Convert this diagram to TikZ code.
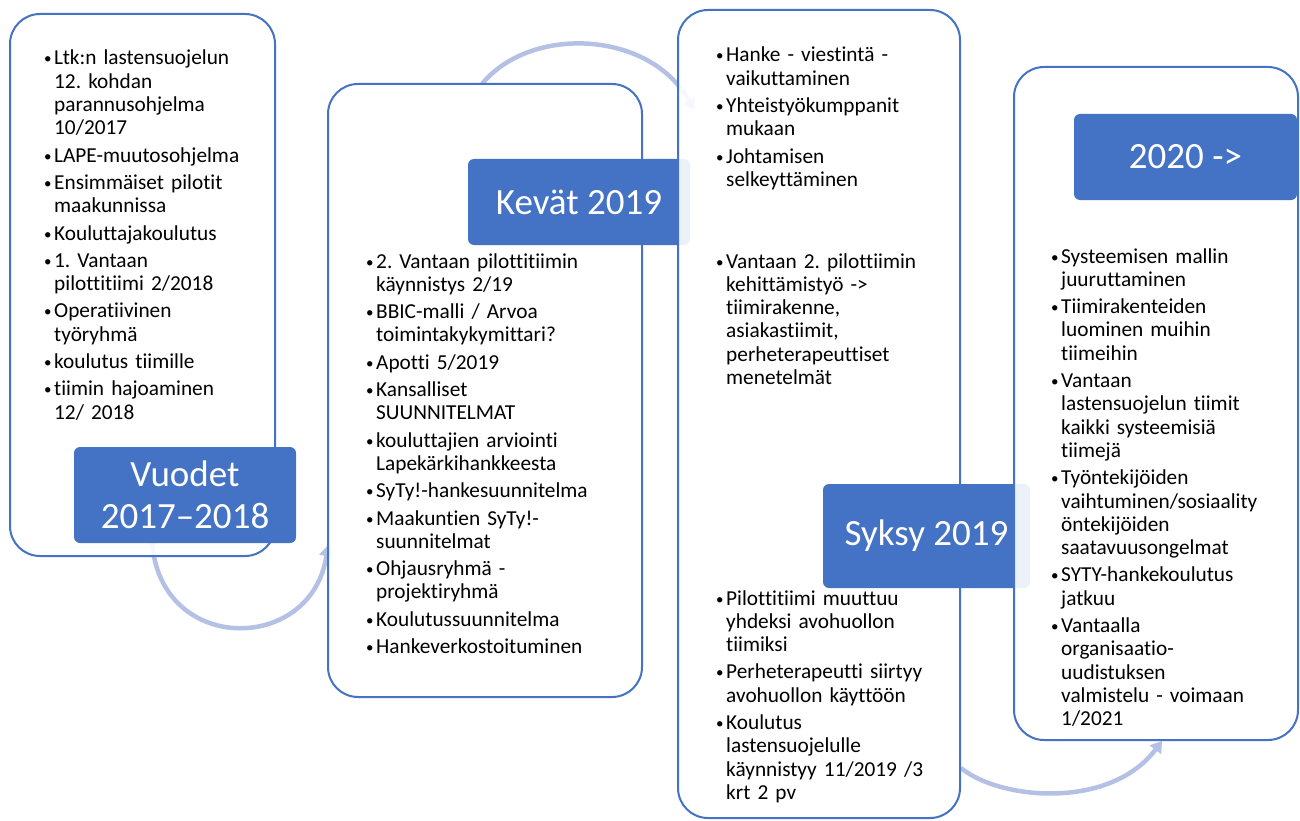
\documentclass[tikz,border=0pt]{standalone}
\usepackage{fontspec}
\setmainfont{Carlito}[Ligatures=NoCommon]
\usetikzlibrary{arrows.meta}
\definecolor{sininen}{HTML}{4472C4}
\definecolor{vaalea}{HTML}{B4C1E4}
\newcommand{\tekstifont}{\fontsize{21.3}{23.3}\selectfont\frenchspacing}
\newcommand{\otsikkofont}{\fontsize{37}{42}\selectfont}
% one bullet item, lines broken with \\
\newcommand{\itm}[1]{\hangindent=10pt\hangafter=1\noindent\strut\makebox[10pt][l]{\raisebox{1pt}{\fontsize{15}{15}\selectfont\textbullet}}{\let\\\newline #1}\par\vskip4pt}
\tikzset{
    %Define standard arrow tip
    >={Triangle[length=11pt,width=14pt]},
    %Define style for the column boxes
    kehys/.style={
           rectangle,
           rounded corners=30pt,
           draw=sininen, line width=2pt,
           fill=white, fill opacity=0.9,
           inner sep=0pt},
    % Define style for the blue labels
    otsikko/.style={
           rectangle,
           rounded corners=6pt,
           fill=sininen,
           text=white,
           font=\otsikkofont,
           align=center,
           inner sep=0pt},
    % Define style for bullet texts
    teksti/.style={
           anchor=base west,
           inner sep=0pt,
           text width=245pt,
           align=left,
           font=\tekstifont},
    % Define arc style
    kaari/.style={
           ->,
           draw=vaalea,
           line width=4.5pt}
}
\begin{document}
\begin{tikzpicture}[x=1pt, y=-1pt]
         \useasboundingbox (0,0) rectangle (1300,821);
         %arc ends
          \coordinate (k1a) at (152,540);
          \coordinate (k1b) at (328,545);
          \coordinate (k2a) at (482,84);
          \coordinate (k2b) at (694,110);
          \coordinate (k3a) at (961,768);
          \coordinate (k3b) at (1162,741);
          \draw[kaari] (k1a) .. controls (158,655) and (312,655) .. (k1b);
          \draw[kaari] (k2a) .. controls (530,25) and (650,30) .. (k2b);
          \draw[kaari] (k3a) .. controls (1000,800) and (1110,810) .. (k3b);
         %column 1
          \node[kehys, minimum width=265pt, minimum height=542pt] (b1) at (142.5,285) {};
          \node[teksti] (t1) at (44,65) {%
            \itm{Ltk:n lastensuojelun\\12. kohdan\\parannusohjelma\\10/2017}
            \itm{LAPE-muutosohjelma}
            \itm{Ensimmäiset pilotit\\maakunnissa}
            \itm{Kouluttajakoulutus}
            \itm{1. Vantaan\\pilottitiimi 2/2018}
            \itm{Operatiivinen\\työryhmä}
            \itm{koulutus tiimille}
            \itm{tiimin hajoaminen\\12/ 2018}};
          \node[otsikko, minimum width=222pt, minimum height=96pt] (l1) at (185,495) {Vuodet\\2017–2018};
         %column 2
          \node[kehys, minimum width=314pt, minimum height=613pt] (b2) at (485,390.5) {};
          \node[teksti] (t2) at (366,268) {%
            \itm{2. Vantaan pilottitiimin\\käynnistys 2/19}
            \itm{BBIC-malli / Arvoa\\toimintakykymittari?}
            \itm{Apotti 5/2019}
            \itm{Kansalliset\\SUUNNITELMAT}
            \itm{kouluttajien arviointi\\Lapekärkihankkeesta}
            \itm{SyTy!-hankesuunnitelma}
            \itm{Maakuntien SyTy!-\\suunnitelmat}
            \itm{Ohjausryhmä -\\projektiryhmä}
            \itm{Koulutussuunnitelma}
            \itm{Hankeverkostoituminen}};
          \node[otsikko, minimum width=222pt, minimum height=86pt] (l2) at (579,202) {Kevät 2019};
         %column 3
          \node[kehys, minimum width=282pt, minimum height=808pt] (b3) at (819,414) {};
          \node[teksti] (t3a) at (716,62) {%
            \itm{Hanke - viestintä -\\vaikuttaminen}
            \itm{Yhteistyökumppanit\\mukaan}
            \itm{Johtamisen\\selkeyttäminen}};
          \node[teksti] (t3b) at (716,268) {%
            \itm{Vantaan 2. pilottiimin\\kehittämistyö ->\\tiimirakenne,\\asiakastiimit,\\perheterapeuttiset\\menetelmät}};
          \node[teksti] (t3c) at (716,605) {%
            \itm{Pilottitiimi muuttuu\\yhdeksi avohuollon\\tiimiksi}
            \itm{Perheterapeutti siirtyy\\avohuollon käyttöön}
            \itm{Koulutus\\lastensuojelulle\\käynnistyy 11/2019 /3\\krt 2 pv}};
          \node[otsikko, minimum width=207pt, minimum height=104pt] (l3) at (926.5,536) {Syksy 2019};
         %column 4
          \node[kehys, minimum width=284pt, minimum height=673pt] (b4) at (1156,403.5) {};
          \node[teksti] (t4) at (1051,263) {%
            \itm{Systeemisen mallin\\juuruttaminen}
            \itm{Tiimirakenteiden\\luominen muihin\\tiimeihin}
            \itm{Vantaan\\lastensuojelun tiimit\\kaikki systeemisiä\\tiimejä}
            \itm{Työntekijöiden\\vaihtuminen/sosiaality\\öntekijöiden\\saatavuusongelmat}
            \itm{SYTY-hankekoulutus\\jatkuu}
            \itm{Vantaalla\\organisaatio-\\uudistuksen\\valmistelu - voimaan\\1/2021}};
          \node[otsikko, minimum width=223pt, minimum height=86pt] (l4) at (1185.5,157) {2020 ->};
\end{tikzpicture}
\end{document}
